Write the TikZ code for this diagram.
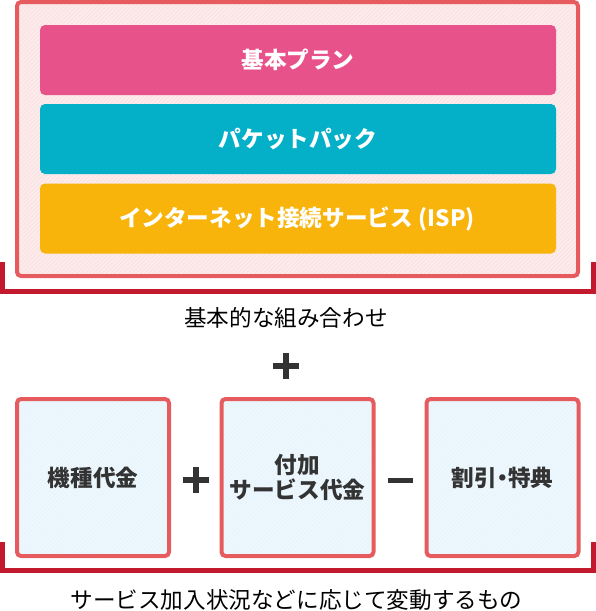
\documentclass[tikz,border=0pt]{standalone}
\usepackage{fontspec}
\setmainfont{Noto Sans CJK JP}
\usetikzlibrary{patterns.meta}
\definecolor{framered}{HTML}{E65C5E}
\definecolor{bracketred}{HTML}{C3192E}
\definecolor{pinkbg}{HTML}{FBE4E4}
\definecolor{bluebg}{HTML}{E8F5FC}
\definecolor{planpink}{HTML}{E8528B}
\definecolor{packcyan}{HTML}{04AFC8}
\definecolor{ispyellow}{HTML}{F8B40B}
\definecolor{textgray}{HTML}{333333}
\tikzset{
  hatch/.style={preaction={fill=#1},
    preaction={pattern={Lines[angle=45,distance=3pt,line width=0.6pt]}, pattern color=white!55!#1}},
  bar/.style={minimum width=516, minimum height=70, rounded corners=5pt, inner sep=0pt,
    text=white, font=\bfseries\fontsize{22.6}{25}\selectfont},
  costbox/.style={hatch=bluebg, draw=framered, line width=4pt, rounded corners=4pt, minimum width=152,
    minimum height=157, inner sep=0pt, align=center, text=textgray,
    font=\bfseries\fontsize{22.6}{25}\selectfont},
  bracket/.style={draw=bracketred, line width=5pt},
  op/.style={draw=textgray, line width=6pt},
  caption/.style={font=\fontsize{22.6}{25}\selectfont, inner sep=0pt}
}
\begin{document}
\begin{tikzpicture}[x=1pt,y=-1pt]
  \useasboundingbox (0,0) rectangle (596,611);
  % basic combination
  \draw[hatch=pinkbg, draw=framered, line width=4pt, rounded corners=4pt]
    (17,2) rectangle (578,276);
  \node[bar, fill=planpink] (plan) at (298,60) {基本プラン};
  \node[bar, fill=packcyan] (pack) at (298,139) {パケットパック};
  \node[bar, fill=ispyellow] (isp) at (298,218.5) {インターネット接続サービス\kern0.25em(ISP)\kern0.1em};
  \draw[bracket] (2.5,262) coordinate (TL) -- (2.5,291) -- (593.5,291) -- (593.5,262) coordinate (TR);
  \node[caption] (basic) at (286,318) {基本的な組み合わせ};
  \draw[op] (273,366) -- (299,366) (286,353) -- (286,379);
  % variable costs
  \node[costbox] (device) at (93,477.5) {機種代金};
  \node[costbox] (option) at (297.5,477.5) {付加\\サービス代金};
  \node[costbox] (discount) at (502.5,477.5) {割引\kern-0.25em・\kern-0.25em特典};
  \draw[op] (183,480) -- (209,480) (196,467) -- (196,493);
  \draw[op, line width=5pt] (388,480) -- (413,480);
  \draw[bracket] (2.5,542) coordinate (BL) -- (2.5,570) -- (593.5,570) -- (593.5,542) coordinate (BR);
  \node[caption] (variable) at (296.5,600) {サービス加入状況などに応じて変動するもの};
\end{tikzpicture}
\end{document}
